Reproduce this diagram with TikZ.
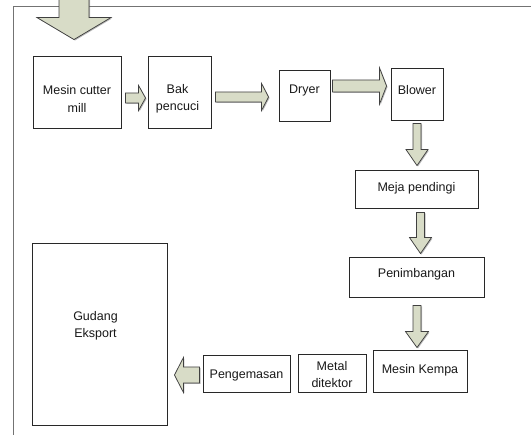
\documentclass[tikz,border=0pt]{standalone}
\usepackage{fontspec}
\setmainfont{Liberation Sans}
\usetikzlibrary{calc,shadows}

\definecolor{arrowfill}{RGB}{216,220,199}
\definecolor{boxline}{RGB}{40,40,40}
\definecolor{frameline}{RGB}{115,115,115}
\definecolor{txt}{RGB}{25,25,25}

% block arrow from start (#2) to tip (#3):
% #4 shaft half width, #5 head half width, #6 head length
\newcommand{\blockarrow}[6]{%
  \coordinate (#1-s) at #2;
  \coordinate (#1-t) at #3;
  \coordinate (#1-h) at ($(#1-t)!#6!(#1-s)$);
  \draw[blockarr]
    ($(#1-s)!#4!90:(#1-t)$) -- ($(#1-h)!#4!90:(#1-t)$) --
    ($(#1-h)!#5!90:(#1-t)$) -- (#1-t) --
    ($(#1-h)!#5!-90:(#1-t)$) -- ($(#1-h)!#4!-90:(#1-t)$) --
    ($(#1-s)!#4!-90:(#1-t)$) -- cycle;
}

\begin{document}
\begin{tikzpicture}[x=1pt,y=-1pt,
  box/.style={draw=boxline, line width=0.9pt, fill=white, inner sep=0pt},
  lbl/.style={text=txt, align=center, inner sep=0pt,
    font=\fontsize{12.5}{17.5}\selectfont},
  blockarr/.style={draw=black!75, line width=0.75pt, fill=arrowfill,
    line join=miter,
    drop shadow={shadow xshift=1pt, shadow yshift=-1pt, opacity=0.45, fill=black!60}},
  frame/.style={draw=frameline, line width=1.6pt}]

\useasboundingbox (0,0) rectangle (531,435);

% outer frame (top and left edges)
\coordinate (fTL) at (13.5,6.5);
\coordinate (fTR) at (531,6.5);
\coordinate (fBL) at (13.5,435);
\draw[frame] (fTR) -- (fTL) -- (fBL);

% process boxes
\node[box, minimum width=88pt,  minimum height=72pt]  (mcm)    at (77,92) {};
\node[box, minimum width=63pt,  minimum height=72pt]  (bak)    at (179.5,92) {};
\node[box, minimum width=51pt,  minimum height=51pt]  (dryer)  at (304.5,95.5) {};
\node[box, minimum width=52pt,  minimum height=52pt]  (blower) at (417,94) {};
\node[box, minimum width=123pt, minimum height=38pt]  (meja)   at (416.5,189) {};
\node[box, minimum width=135pt, minimum height=40pt]  (penimb) at (416.5,277) {};
\node[box, minimum width=94pt,  minimum height=42pt]  (kempa)  at (420,371) {};
\node[box, minimum width=68pt,  minimum height=38pt]  (metal)  at (332,373) {};
\node[box, minimum width=87pt,  minimum height=37pt]  (pengem) at (246.5,373.5) {};
\node[box, minimum width=135pt, minimum height=182pt] (gudang) at (99.5,334) {};

% box texts
\node[lbl] (t-mcm)    at ($(mcm.center)+(0,7)$)     {Mesin cutter\\mill};
\node[lbl] (t-bak)    at ($(bak.center)+(-2,7)$)    {Bak\\pencuci};
\node[lbl] (t-dryer)  at ($(dryer.center)+(0,-5)$)  {Dryer};
\node[lbl] (t-blower) at ($(blower.center)+(0,-4)$) {Blower};
\node[lbl] (t-meja)   at ($(meja.center)+(0,-1)$)   {Meja pendingi};
\node[lbl] (t-penimb) at ($(penimb.center)+(0,-3)$) {Penimbangan};
\node[lbl] (t-kempa)  at ($(kempa.center)+(0,-1)$)  {Mesin Kempa};
\node[lbl] (t-metal)  at ($(metal.center)+(0,1.5)$) {Metal\\ditektor};
\node[lbl] (t-pengem) at ($(pengem.center)+(0,1.5)$){Pengemasan};
\node[lbl] (t-gudang) at ($(gudang.center)+(-4,-8)$){Gudang\\Eksport};

% flow arrows
\coordinate (in) at (74,-3);
\blockarrow{a0}{(in)}{($(mcm.north)+(-3,-16)$)}{15pt}{37pt}{22pt}
\blockarrow{a1}{($(mcm.east)+(4,6)$)}{($(bak.west)+(-2,6)$)}{5pt}{12.5pt}{7pt}
\blockarrow{a2}{($(bak.east)+(4,5)$)}{($(dryer.west)+(-10,1.5)$)}{5pt}{13.5pt}{7pt}
\blockarrow{a3}{($(dryer.east)+(2,-9.5)$)}{($(blower.west)+(-4,-8)$)}{6pt}{18pt}{7pt}
\blockarrow{a4}{($(blower.south)+(0,3)$)}{($(meja.north)+(0.5,-4)$)}{4pt}{11pt}{16pt}
\blockarrow{a5}{($(meja.south)+(4,4)$)}{($(penimb.north)+(4,-3)$)}{4pt}{11pt}{16pt}
\blockarrow{a6}{($(penimb.south)+(0.5,8)$)}{($(kempa.north)+(-3,-2)$)}{4pt}{11.5pt}{16pt}
\blockarrow{a7}{($(pengem.west)+(-3,1.5)$)}{($(gudang.east)+(7,41)$)}{8pt}{17.5pt}{9pt}

\end{tikzpicture}
\end{document}
